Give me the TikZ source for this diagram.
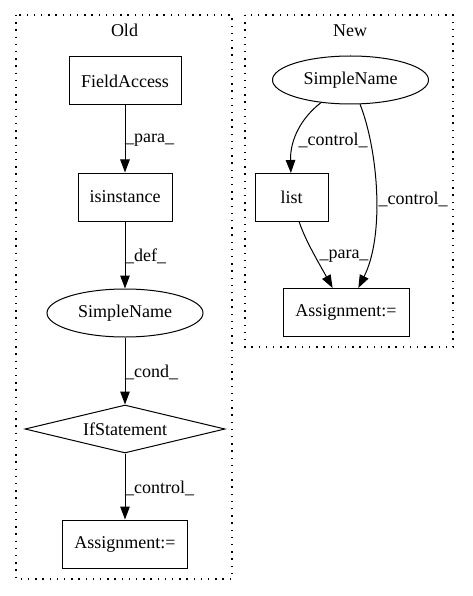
\documentclass[tikz,border=0pt]{standalone}
\usepackage{fontspec}
\setmainfont{Liberation Serif}
\usetikzlibrary{arrows.meta,shapes.geometric}
\begin{document}
\begin{tikzpicture}[x=1pt,y=-1pt,
  txt/.style={font=\fontsize{18}{20}\selectfont},
  box/.style={txt,draw,rectangle,line width=1,minimum height=48,inner sep=0},
  ell/.style={txt,draw,ellipse,line width=1,minimum width=156,minimum height=48,inner sep=0},
  dia/.style={txt,draw,diamond,aspect=4.1667,line width=1,minimum width=200,minimum height=48,inner sep=0},
  edge/.style={line width=1,-{Triangle[length=13,width=9.5]}},
  elab/.style={txt,inner sep=0},
  cluster/.style={draw,line width=1.2,dash pattern=on 1.4 off 5.8}]
\useasboundingbox (0,0) rectangle (472,596);
% clusters
\draw[cluster] (16,15) rectangle (232,579);
\draw[cluster] (245,15) rectangle (453,347);
\node[txt] (told) at (124.5,30) {Old};
\node[txt] (tnew) at (350,31) {New};
% Old graph
\node[box,minimum width=112] (fa) at (125,81) {FieldAccess};
\node[box,minimum width=94] (isi) at (125,197) {isinstance};
\node[ell] (osn) at (125,313) {SimpleName};
\node[dia] (ifs) at (125,429) {IfStatement};
\node[box,minimum width=125] (oas) at (125,544) {Assignment:=};
\draw[edge] (fa) -- (isi);
\draw[edge] (isi) -- (osn);
\draw[edge] (osn) -- (ifs);
\draw[edge] (ifs) -- (oas);
\node[elab,anchor=west] (l1) at (125,140) {\_para\_};
\node[elab,anchor=west] (l2) at (125,256) {\_def\_};
\node[elab,anchor=west] (l3) at (125,372) {\_cond\_};
\node[elab,anchor=west] (l4) at (125,488) {\_control\_};
% New graph
\node[ell] (nsn) at (350.5,80) {SimpleName};
\node[box,minimum width=73] (nl) at (291.5,197.5) {list};
\node[box,minimum width=126] (nas) at (346,312.5) {Assignment:=};
\draw[edge] (nsn) .. controls (301,118) and (290,140) .. (nl);
\draw[edge] (nsn) .. controls (378,150) and (385,235) .. (nas);
\draw[edge] (nl) .. controls (305,240) and (320,265) .. (nas);
\node[elab] (l5) at (333,140) {\_control\_};
\node[elab] (l6) at (413,199) {\_control\_};
\node[elab] (l7) at (344,256) {\_para\_};
\end{tikzpicture}
\end{document}
